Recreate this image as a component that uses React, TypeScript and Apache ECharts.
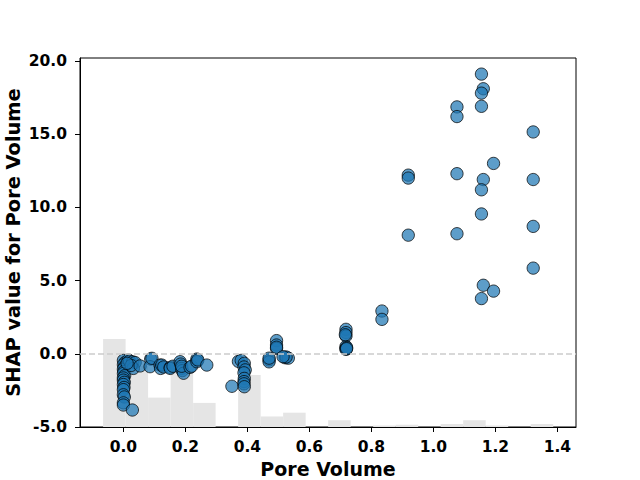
import React, { useEffect, useRef } from "react";
import * as echarts from "echarts";

// Feature value (Pore Volume) and its SHAP value for each sample
const shapPoints: [number, number][] = [
  // low pore volume column near 0
  [0.0, -0.45], [0.005, -0.6], [0.0, -0.75], [0.003, -0.9], [0.0, -1.05],
  [0.002, -1.2], [0.0, -1.35], [0.004, -1.5], [0.0, -1.65], [0.0, -1.8],
  [0.003, -1.95], [0.0, -2.1], [0.002, -2.3], [0.0, -2.45], [0.0, -2.8],
  [0.003, -2.95], [0.0, -3.35], [0.0, -3.5], [0.016, -0.42], [0.02, -0.5],
  [0.03, -0.55], [0.038, -0.6], [0.032, -1.0], [0.025, -0.8], [0.029, -3.84],
  [0.012, -0.65],
  // 0.05 - 0.27 band
  [0.054, -0.83], [0.088, -0.36], [0.086, -0.88], [0.092, -0.31], [0.118, -0.77],
  [0.12, -1.0], [0.124, -0.77], [0.13, -0.9], [0.151, -0.93], [0.151, -1.0],
  [0.16, -0.85], [0.183, -0.54], [0.185, -0.7], [0.188, -1.0], [0.19, -1.15],
  [0.194, -1.33], [0.188, -0.85], [0.215, -0.93], [0.22, -0.85], [0.237, -0.36],
  [0.237, -0.54], [0.24, -0.42], [0.269, -0.77],
  // around 0.35 - 0.39
  [0.35, -2.22], [0.371, -0.52], [0.38, -0.45], [0.39, -0.65], [0.389, -0.9],
  [0.393, -1.1], [0.389, -1.3], [0.39, -1.68], [0.389, -1.9], [0.389, -2.05],
  [0.39, -2.25],
  // around 0.47 - 0.53
  [0.47, -0.42], [0.47, -0.55], [0.47, -0.3], [0.494, 0.9], [0.494, 0.6],
  [0.494, 0.37], [0.494, 0.45], [0.522, -0.27], [0.532, -0.3], [0.525, -0.22],
  [0.515, -0.2],
  // around 0.72
  [0.718, 1.67], [0.718, 1.45], [0.718, 1.22], [0.718, 0.5], [0.718, 0.37],
  [0.718, 0.3], [0.72, 0.42], [0.716, 1.3], [0.72, 0.35],
  // around 0.83
  [0.834, 2.92], [0.834, 2.35],
  // around 0.92
  [0.919, 12.2], [0.919, 12.0], [0.919, 8.1],
  // around 1.08
  [1.076, 16.86], [1.076, 16.2], [1.076, 12.3], [1.076, 8.2],
  // around 1.16
  [1.155, 19.1], [1.161, 18.1], [1.155, 17.8], [1.155, 16.9], [1.161, 11.9],
  [1.155, 11.2], [1.155, 9.55], [1.161, 4.68], [1.155, 3.77],
  // around 1.19
  [1.194, 13.0], [1.194, 4.28],
  // around 1.32
  [1.322, 15.15], [1.322, 11.9], [1.322, 8.7], [1.322, 5.85],
];

// Histogram of the feature values (20 equal bins)
const histStart = -0.0655;
const histStep = 0.0726;
const histCounts = [117, 81, 39, 76, 32, 0, 69, 14, 19, 0, 9, 0, 2, 3, 0, 4, 9, 2, 0, 4];

const xTicks = [0, 0.2, 0.4, 0.6, 0.8, 1.0, 1.2, 1.4];
const yTicks = [-5, 0, 5, 10, 15, 20];

const FONT = "DejaVu Sans";

export default function App() {
  const ref = useRef<HTMLDivElement>(null);

  useEffect(() => {
    document.body.style.margin = "0";
    if (!ref.current) return;
    const chart = echarts.init(ref.current, null, { renderer: "svg" });

    const histData = histCounts.map((c, i) => [
      histStart + i * histStep,
      histStart + (i + 1) * histStep,
      c,
    ]);

    const tickLabel = {
      fontFamily: FONT,
      fontWeight: "bold" as const,
      fontSize: 15.5,
      color: "#000",
    };

    chart.setOption({
      animation: false,
      backgroundColor: "#fff",
      grid: {
        left: 80,
        top: 58,
        width: 496,
        height: 369,
        containLabel: false,
        outerBoundsMode: "none",
        show: true,
        borderColor: "#000",
        borderWidth: 1,
        backgroundColor: "transparent",
      },
      xAxis: {
        type: "value",
        min: -0.14,
        max: 1.46,
        name: "Pore Volume",
        nameLocation: "middle",
        nameGap: 32,
        nameMoveOverlap: false,
        nameTextStyle: { fontFamily: FONT, fontWeight: "bold", fontSize: 19, color: "#000" },
        axisLine: { show: true, onZero: false, lineStyle: { color: "#000", width: 1 } },
        axisTick: { show: true, length: 5, lineStyle: { color: "#000" }, customValues: xTicks },
        axisLabel: {
          ...tickLabel,
          margin: 12,
          customValues: xTicks,
          formatter: (v: number) => v.toFixed(1),
        },
        splitLine: { show: false },
      },
      yAxis: [
        {
          type: "value",
          min: -5,
          max: 20.2,
          name: "SHAP value for Pore Volume",
          nameLocation: "middle",
          nameGap: 57,
          nameMoveOverlap: false,
          nameTextStyle: { fontFamily: FONT, fontWeight: "bold", fontSize: 19.4, color: "#000" },
          axisLine: { show: true, onZero: false, lineStyle: { color: "#000", width: 1 } },
          axisTick: { show: true, length: 5, lineStyle: { color: "#000" }, customValues: yTicks },
          axisLabel: {
            ...tickLabel,
            margin: 13,
            customValues: yTicks,
            formatter: (v: number) => v.toFixed(1),
          },
          splitLine: { show: false },
        },
        {
          type: "value",
          min: 0,
          max: 490,
          show: false,
          axisLine: { onZero: false },
          splitLine: { show: false },
        },
      ],
      series: [
        {
          type: "custom",
          xAxisIndex: 0,
          yAxisIndex: 1,
          z: 1,
          silent: true,
          data: histData,
          encode: { x: [0, 1], y: 2 },
          renderItem: (_params: any, api: any) => {
            const x0 = api.value(0);
            const x1 = api.value(1);
            const c = api.value(2);
            const pTop = api.coord([x0, c]);
            const pBot = api.coord([x1, 0]);
            return {
              type: "rect",
              shape: {
                x: pTop[0],
                y: pTop[1],
                width: pBot[0] - pTop[0],
                height: pBot[1] - pTop[1],
              },
              style: { fill: "#e5e5e5" },
            };
          },
        },
        {
          type: "scatter",
          xAxisIndex: 0,
          yAxisIndex: 0,
          z: 2,
          data: [],
          markLine: {
            silent: true,
            symbol: "none",
            label: { show: false },
            lineStyle: { color: "#cccccc", width: 1.5, type: [6, 3] },
            data: [{ yAxis: 0 }],
          },
        },
        {
          type: "scatter",
          xAxisIndex: 0,
          yAxisIndex: 0,
          z: 3,
          symbolSize: 12.3,
          data: shapPoints,
          itemStyle: {
            color: "rgba(31,119,180,0.9)",
            borderColor: "rgba(0,0,0,0.9)",
            borderWidth: 1,
          },
        },
      ],
    });

    return () => chart.dispose();
  }, []);

  return <div ref={ref} style={{ width: 640, height: 480 }} />;
}
